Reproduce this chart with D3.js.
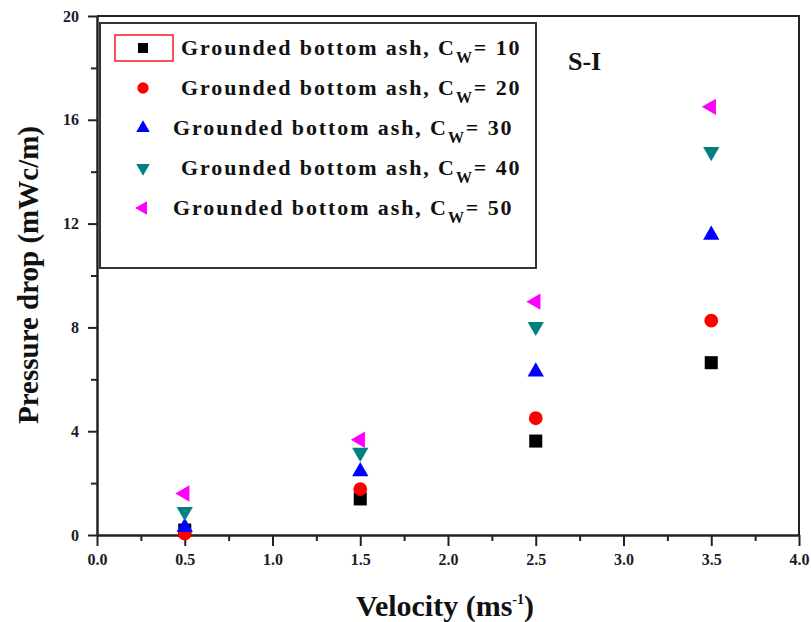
<!DOCTYPE html>
<html>
<head>
<meta charset="utf-8">
<script src="https://cdn.jsdelivr.net/npm/d3@7"></script>
<style>
  body { margin: 0; background: #fff; }
  text { font-family: "Liberation Serif", "Times New Roman", serif; font-weight: bold; }
  .axis path, .axis line { stroke: #222; stroke-width: 2; }
  .axis text { font-family: "Liberation Serif", "Times New Roman", serif; font-weight: bold; font-size: 16px; fill: #1a1a2a; }
</style>
</head>
<body>
<div id="chart"></div>
<script>
// data
const velocity = [0.5, 1.5, 2.5, 3.5];
const cw10 = [0.19, 1.39, 3.62, 6.64];
const cw20 = [0.05, 1.77, 4.50, 8.26];
const cw30 = [0.30, 2.45, 6.29, 11.56];
const cw40 = [0.90, 3.18, 8.03, 14.77];
const cw50 = [1.60, 3.67, 8.99, 16.50];
const cwLabels = ["10", "20", "30", "40", "50"];
const xTicks = [0, 0.5, 1, 1.5, 2, 2.5, 3, 3.5, 4];
const xMinor = [0.25, 0.75, 1.25, 1.75, 2.25, 2.75, 3.25, 3.75];
const yTicks = [0, 4, 8, 12, 16, 20];
const yMinor = [2, 6, 10, 14, 18];

const width = 811, height = 622;
const margin = {top: 16, right: 12, bottom: 87, left: 97};

const svg = d3.select("#chart").append("svg")
    .attr("width", width)
    .attr("height", height);

const x = d3.scaleLinear().domain([0, 4]).range([margin.left, width - margin.right]);
const y = d3.scaleLinear().domain([0, 20]).range([height - margin.bottom, margin.top]);

// frame top / right
svg.append("path")
    .attr("d", "M" + x(0) + "," + y(20) + "H" + x(4) + "V" + y(0))
    .attr("fill", "none")
    .attr("stroke", "#222")
    .attr("stroke-width", 2);

// minor ticks
svg.append("g")
    .attr("class", "axis")
    .attr("transform", "translate(0," + y(0) + ")")
    .call(d3.axisBottom(x).tickValues(xMinor).tickSize(6).tickSizeOuter(0).tickFormat(""));
svg.append("g")
    .attr("class", "axis")
    .attr("transform", "translate(" + x(0) + ",0)")
    .call(d3.axisLeft(y).tickValues(yMinor).tickSize(6).tickSizeOuter(0).tickFormat(""));

// major ticks
svg.append("g")
    .attr("class", "axis")
    .attr("transform", "translate(0," + y(0) + ")")
    .call(d3.axisBottom(x).tickValues(xTicks).tickSize(11).tickSizeOuter(0).tickPadding(8).tickFormat(d3.format(".1f")));
svg.append("g")
    .attr("class", "axis")
    .attr("transform", "translate(" + x(0) + ",0)")
    .call(d3.axisLeft(y).tickValues(yTicks).tickSize(9).tickSizeOuter(0).tickPadding(9).tickFormat(d3.format("d")));

// axis titles
svg.append("text")
    .attr("x", 445)
    .attr("y", 616)
    .attr("text-anchor", "middle")
    .style("font-size", "30px")
    .attr("fill", "#111")
    .text("Velocity (ms")
    .append("tspan")
    .attr("dy", -12)
    .style("font-size", "14px")
    .text("-1")
    .select(function () { return this.parentNode; })
    .append("tspan")
    .attr("dy", 12)
    .text(")");

svg.append("text")
    .attr("transform", "translate(38," + 275 + ") rotate(-90)")
    .attr("text-anchor", "middle")
    .style("font-size", "29px")
    .attr("fill", "#111")
    .text("Pressure drop (mWc/m)");

svg.append("text")
    .attr("x", 568)
    .attr("y", 70)
    .style("font-size", "26px")
    .attr("fill", "#111")
    .text("S-I");

// series
const series = [
    {vals: cw10, color: "#000000", type: d3.symbolSquare, size: 170, rot: 0},
    {vals: cw20, color: "#ff0000", type: d3.symbolCircle, size: 150, rot: 0},
    {vals: cw30, color: "#0000ff", type: d3.symbolTriangle, size: 115, rot: 0},
    {vals: cw40, color: "#008080", type: d3.symbolTriangle, size: 115, rot: 180},
    {vals: cw50, color: "#ff00ff", type: d3.symbolTriangle, size: 115, rot: -90}
];

const pts = svg.append("g").attr("class", "points");
series.forEach(s => {
    pts.selectAll(null)
        .data(velocity.map((v, i) => [v, s.vals[i]]))
        .enter().append("path")
        .attr("d", d3.symbol().type(s.type).size(s.size))
        .attr("fill", s.color)
        .attr("transform", d => "translate(" + x(d[0]) + "," + y(d[1]) + ") rotate(" + s.rot + ")");
});

// legend
const legend = svg.append("g").attr("class", "legend");
legend.append("rect")
    .attr("x", 100).attr("y", 23)
    .attr("width", 436).attr("height", 245)
    .attr("fill", "#fff")
    .attr("stroke", "#333")
    .attr("stroke-width", 2);

legend.append("rect")
    .attr("x", 115).attr("y", 35)
    .attr("width", 58).attr("height", 26)
    .attr("fill", "none")
    .attr("stroke", "#ee2020")
    .attr("stroke-width", 1.5);

const legStart = [181, 181, 173, 181, 173];
series.forEach((s, i) => {
    const cy = 48 + i * 40;
    legend.append("path")
        .attr("d", d3.symbol().type(s.type).size(s.type === d3.symbolSquare ? 100 : s.type === d3.symbolCircle ? 100 : 80))
        .attr("fill", s.color)
        .attr("transform", "translate(143," + cy + ") rotate(" + s.rot + ")");

    const t = legend.append("text")
        .attr("x", legStart[i])
        .attr("y", cy + 7)
        .style("font-size", "22px")
        .style("letter-spacing", "1.9px")
        .attr("fill", "#111");
    t.append("tspan").text("Grounded bottom ash, C");
    t.append("tspan").attr("dy", 8).style("font-size", "16px").text("W");
    t.append("tspan").attr("dy", -8).text("= " + cwLabels[i]);
});
</script>
</body>
</html>
